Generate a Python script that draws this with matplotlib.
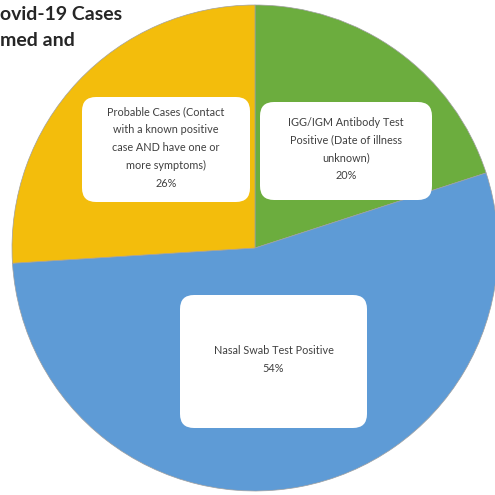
import matplotlib.pyplot as plt
from matplotlib.patches import FancyBboxPatch

# Data
categories = ["IGG/IGM Antibody Test\nPositive (Date of illness\nunknown)",
              "Nasal Swab Test Positive",
              "Probable Cases (Contact\nwith a known positive\ncase AND have one or\nmore symptoms)"]
shares = [20, 54, 26]
colors = ["#6CAD3E", "#5E9BD6", "#F3BD0C"]
title_lines = ["ovid-19 Cases", "med and"]  # visible part of the cropped title

# box layout in pixels (left, top, right, bottom) of the 495px canvas
boxes_px = [(260, 102, 432, 200), (180, 295, 367, 428), (82, 97, 250, 202)]

W = 495
cx, cy, R = 255, 248, 243

fig = plt.figure(figsize=(4.95, 4.95), dpi=100)
ax = fig.add_axes([0, 0, 1, 1])
ax.pie(shares, colors=colors, startangle=90, counterclock=False, radius=1,
       wedgeprops=dict(linewidth=0.5, edgecolor="#a0a0a0"))
ax.set_xlim(-cx / R, (W - cx) / R)
ax.set_ylim(-(W - cy) / R, cy / R)
ax.set_aspect("equal")
ax.axis("off")


def to_data(px, py):
    return (px - cx) / R, (cy - py) / R


for cat, val, (l, t, r, b) in zip(categories, shares, boxes_px):
    x0, y0 = to_data(l, b)
    x1, y1 = to_data(r, t)
    rad = 14 / R
    box = FancyBboxPatch((x0 + rad, y0 + rad), (x1 - x0) - 2 * rad, (y1 - y0) - 2 * rad,
                         boxstyle=f"round,pad={rad}", facecolor="white",
                         edgecolor="none", zorder=3)
    ax.add_patch(box)
    ax.text((x0 + x1) / 2, (y0 + y1) / 2 + 2 / R, f"{cat}\n{val}%", ha="center", va="center",
            fontsize=7.8, color="#404040", family="Lato", linespacing=1.75, zorder=4)

# cropped title
fig.text(0, 1 - 14 / W, title_lines[0], ha="left", va="center",
         fontsize=14, fontweight="bold", family="Lato", color="#262626")
fig.text(0, 1 - 41 / W, title_lines[1], ha="left", va="center",
         fontsize=14, fontweight="bold", family="Lato", color="#262626")

fig.savefig("out.png", dpi=100)
